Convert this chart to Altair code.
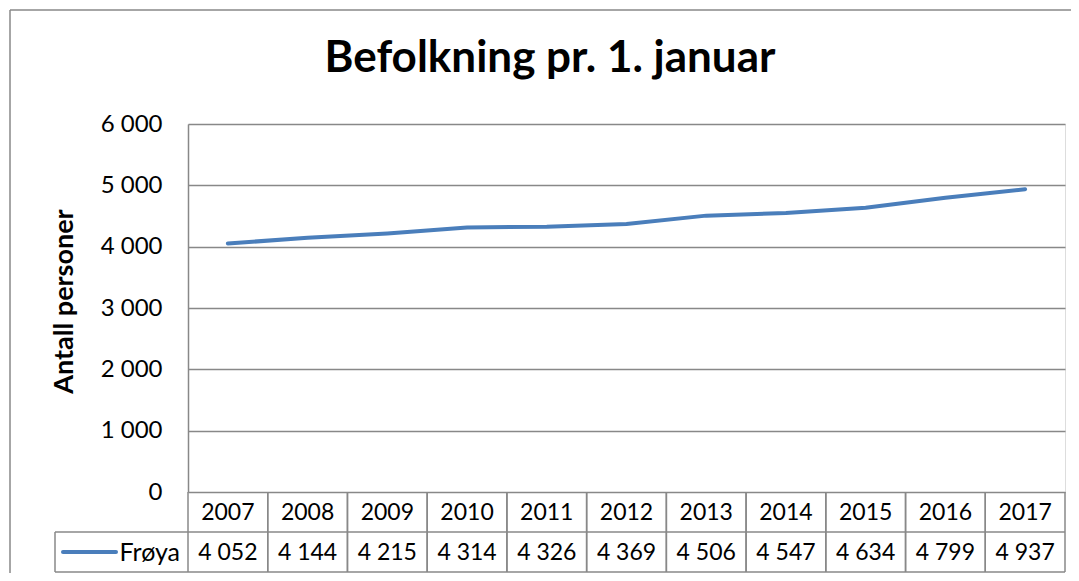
import altair as alt
import pandas as pd

years = ["2007", "2008", "2009", "2010", "2011", "2012", "2013", "2014", "2015", "2016", "2017"]
values = [4052, 4144, 4215, 4314, 4326, 4369, 4506, 4547, 4634, 4799, 4937]
series_name = "Frøya"
title_text = "Befolkning pr. 1. januar"
y_title = "Antall personer"
y_ticks = [0, 1000, 2000, 3000, 4000, 5000, 6000]

FONT = "Lato"
BLUE = "#4a7ebb"
GRAY = "#888888"
W, H = 877, 368
ROW = 40

df = pd.DataFrame({"year": years, "value": values})
one = pd.DataFrame({"k": [0]})

base = alt.Chart(df)
xband = alt.Scale(type="band", paddingInner=0, paddingOuter=0, domain=years)

line = base.mark_line(color=BLUE, strokeWidth=4, strokeCap="round").encode(
    x=alt.X("year:O", scale=xband, bandPosition=0.5, axis=None),
    y=alt.Y(
        "value:Q",
        scale=alt.Scale(domain=[0, 6000], nice=False),
        axis=alt.Axis(
            values=y_ticks,
            labelExpr="replace(format(datum.value, ','), ',', ' ')",
            ticks=False,
            labelPadding=26,
            labelFont=FONT,
            labelFontSize=24,
            labelColor="black",
            domainColor=GRAY,
            domainWidth=1.5,
            gridColor=GRAY,
            gridWidth=1.5,
            title=y_title,
            titleFont=FONT,
            titleFontSize=27,
            titleFontWeight="bold",
            titleColor="black",
            titleAngle=-90,
            titleX=-124,
            titleY=H / 2 - 7,
            titleAlign="center",
            titleBaseline="middle",
        ),
    ),
)

year_text = base.mark_text(font=FONT, fontSize=23, baseline="middle", color="black").encode(
    x=alt.X("year:O", scale=xband, bandPosition=0.5),
    y=alt.value(H + ROW / 2 + 1),
    text="year:N",
)

val_text = base.transform_calculate(
    lab="replace(format(datum.value, ','), ',', ' ')"
).mark_text(font=FONT, fontSize=23, baseline="middle", color="black").encode(
    x=alt.X("year:O", scale=xband, bandPosition=0.5),
    y=alt.value(H + ROW * 1.5 + 1),
    text="lab:N",
)

vlines0 = base.mark_rule(color=GRAY, strokeWidth=1.5).encode(
    x=alt.X("year:O", scale=xband, bandPosition=0),
    y=alt.value(H),
    y2=alt.value(H + 2 * ROW),
)
vlines1 = base.mark_rule(color=GRAY, strokeWidth=1.5).encode(
    x=alt.X("year:O", scale=xband, bandPosition=1),
    y=alt.value(H),
    y2=alt.value(H + 2 * ROW),
)

deco = alt.Chart(one)
hmid = deco.mark_rule(color=GRAY, strokeWidth=1.5).encode(
    x=alt.value(-133), x2=alt.value(W), y=alt.value(H + ROW)
)
hbot = deco.mark_rule(color=GRAY, strokeWidth=1.5).encode(
    x=alt.value(-133), x2=alt.value(W), y=alt.value(H + 2 * ROW)
)
vleft = deco.mark_rule(color=GRAY, strokeWidth=1.5).encode(
    x=alt.value(-133), y=alt.value(H + ROW), y2=alt.value(H + 2 * ROW)
)
legend_line = deco.mark_rule(color=BLUE, strokeWidth=4, strokeCap="round").encode(
    x=alt.value(-125), x2=alt.value(-72), y=alt.value(H + ROW * 1.5)
)
legend_text = deco.transform_calculate(name=f"'{series_name}'").mark_text(
    font=FONT, fontSize=25, align="right", baseline="middle", color="black"
).encode(x=alt.value(-8), y=alt.value(H + ROW * 1.5 + 1), text="name:N")

title = deco.transform_calculate(t=f"'{title_text}'").mark_text(
    font=FONT, fontSize=44, fontWeight="bold", align="center", baseline="alphabetic", color="black"
).encode(x=alt.value(362), y=alt.value(-52), text="t:N")

frame_top = deco.mark_rule(color=GRAY, strokeWidth=1.5).encode(
    x=alt.value(-178), x2=alt.value(W + 20), y=alt.value(-114)
)
frame_left = deco.mark_rule(color=GRAY, strokeWidth=1.5).encode(
    x=alt.value(-178), y=alt.value(-114), y2=alt.value(H + 2 * ROW + 20)
)

chart = alt.layer(
    frame_top, frame_left, line, vlines0, vlines1, hmid, hbot, vleft, year_text, val_text,
    legend_line, legend_text, title
).properties(
    width=W,
    height=H,
    autosize=alt.AutoSizeParams(type="none"),
    padding={"left": 180, "top": 116, "right": 6, "bottom": 81},
).configure_view(stroke="transparent").configure(background="white")

chart.save("out.html", embed_options={"renderer": "svg", "actions": False})
